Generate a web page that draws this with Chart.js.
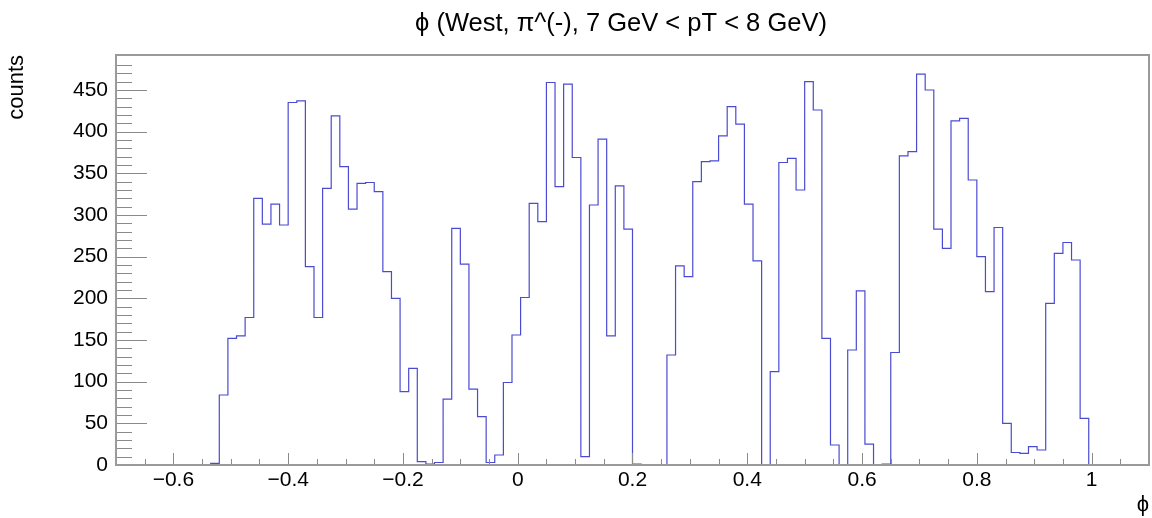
<!DOCTYPE html>
<html>
<head>
<meta charset="utf-8">
<script src="https://cdn.jsdelivr.net/npm/chart.js@4.4.0/dist/chart.umd.min.js"></script>
<style>
  html, body { margin: 0; padding: 0; background: #fff; }
  #wrap { width: 1152px; height: 518px; }
</style>
</head>
<body>
<div id="wrap"><canvas id="myChart" width="1152" height="518"></canvas></div>
<script>
// histogram binning (120 bins from -0.7 to 1.1)
const phiMin = -0.7;
const phiMax = 1.1;
const binWidth = 0.015;

// bin contents
const counts = [
  0, 0, 0, 0, 0, 0, 0, 0, 0, 0,
  0, 2, 84, 152, 155, 177, 320, 289, 313, 288,
  435, 437, 238, 177, 332, 419, 358, 307, 338, 339,
  328, 232, 200, 88, 116, 4, 1, 3, 79, 284,
  241, 91, 58, 3, 12, 99, 156, 201, 314, 292,
  459, 334, 457, 369, 10, 312, 391, 155, 335, 283,
  1, 0, 0, 0, 132, 239, 226, 340, 364, 365,
  395, 430, 409, 313, 245, 0, 112, 363, 368, 330,
  460, 426, 152, 24, 0, 138, 209, 25, 0, 1,
  135, 371, 376, 469, 450, 283, 260, 413, 416, 342,
  250, 208, 285, 50, 15, 14, 22, 18, 194, 254,
  267, 246, 56, 0, 0, 0, 0, 0, 0, 0
];

const yMax = 492;
const xLabelStep = 0.2;   // labelled x ticks
const xMinorStep = 0.05;
const yLabelStep = 50;    // labelled y ticks
const yMinorStep = 10;

const titleText = "\u03D5 (West, \u03C0^(-), 7 GeV < pT < 8 GeV)";
const xTitle = "\u03D5";
const yTitle = "counts";

// step outline points: each bin starts at its low edge
const points = counts.map((c, i) => ({ x: phiMin + i * binWidth, y: c }));
points.push({ x: phiMax, y: counts[counts.length - 1] });

const fontFam = "'Liberation Sans', Arial, Helvetica, sans-serif";

function fmtX(v) {
  const r = Math.round(v * 100);
  if (r % Math.round(xLabelStep * 100) !== 0) return '';
  if (r === 0) return '0';
  const s = String(Math.abs(r) / 100);
  return (r < 0 ? '\u2212' : '') + s;
}

// ROOT-like frame, inside tick marks and the (off-centre) title
const rootAxes = {
  id: 'rootAxes',
  afterDatasetsDraw(chart) {
    const { ctx, chartArea: a, scales: { x, y } } = chart;
    ctx.save();
    ctx.strokeStyle = '#8a8a8a';
    ctx.lineWidth = 1;
    ctx.beginPath();
    x.ticks.forEach(t => {
      const r = Math.round(t.value * 100);
      if (r % Math.round(xMinorStep * 100) !== 0) return;
      const px = Math.round(x.getPixelForValue(t.value)) + 0.5;
      const len = r % Math.round(xLabelStep * 100) === 0 ? 12 : 6;
      ctx.moveTo(px, a.bottom);
      ctx.lineTo(px, a.bottom - len);
    });
    y.ticks.forEach(t => {
      const v = Math.round(t.value);
      if (v % yMinorStep !== 0 || v === 0) return;
      const py = Math.round(y.getPixelForValue(v)) + 0.5;
      const len = v % yLabelStep === 0 ? 31 : 16;
      ctx.moveTo(a.left, py);
      ctx.lineTo(a.left + len, py);
    });
    ctx.stroke();
    ctx.lineWidth = 2;
    ctx.strokeStyle = '#9a9a9a';
    ctx.strokeRect(a.left, a.top, a.right - a.left, a.bottom - a.top);

    ctx.fillStyle = '#000';
    ctx.font = "25.5px " + fontFam;
    ctx.textAlign = 'center';
    ctx.textBaseline = 'middle';
    ctx.fillText(titleText, 621, 24);
    ctx.restore();
  }
};

new Chart("myChart", {
  type: "line",
  data: {
    datasets: [{
      data: points,
      borderColor: "#4b4bd2",
      borderWidth: 1.2,
      pointRadius: 0,
      stepped: true,
      fill: false,
      tension: 0
    }]
  },
  options: {
    responsive: false,
    animation: false,
    devicePixelRatio: 1,
    layout: { padding: { top: 55, right: 2, left: 0, bottom: 0 } },
    plugins: {
      legend: { display: false },
      tooltip: { enabled: false },
      title: { display: false }
    },
    scales: {
      x: {
        type: 'linear',
        min: phiMin,
        max: phiMax,
        grid: { display: false, drawTicks: false, tickLength: 0 },
        border: { display: false },
        ticks: {
          stepSize: xMinorStep,
          autoSkip: false,
          maxRotation: 0,
          padding: 3,
          color: "#000",
          font: { family: fontFam, size: 21 },
          callback: (v) => fmtX(v)
        },
        title: {
          display: true,
          text: xTitle,
          align: 'end',
          color: "#000",
          font: { family: fontFam, size: 22 },
          padding: { top: 1, bottom: 0 }
        },
        afterFit: (s) => { s.height = 53; }
      },
      y: {
        min: 0,
        max: yMax,
        grid: { display: false, drawTicks: false, tickLength: 0 },
        border: { display: false },
        ticks: {
          stepSize: yMinorStep,
          autoSkip: false,
          padding: 8,
          color: "#000",
          font: { family: fontFam, size: 21 },
          callback: (v) => (Math.round(v) % yLabelStep === 0 && v <= 450) ? String(Math.round(v)) : ''
        },
        title: {
          display: true,
          text: yTitle,
          align: 'end',
          color: "#000",
          font: { family: fontFam, size: 22 },
          padding: { top: 4, bottom: 0 }
        },
        afterFit: (s) => { s.width = 116; }
      }
    }
  },
  plugins: [rootAxes]
});
</script>
</body>
</html>
